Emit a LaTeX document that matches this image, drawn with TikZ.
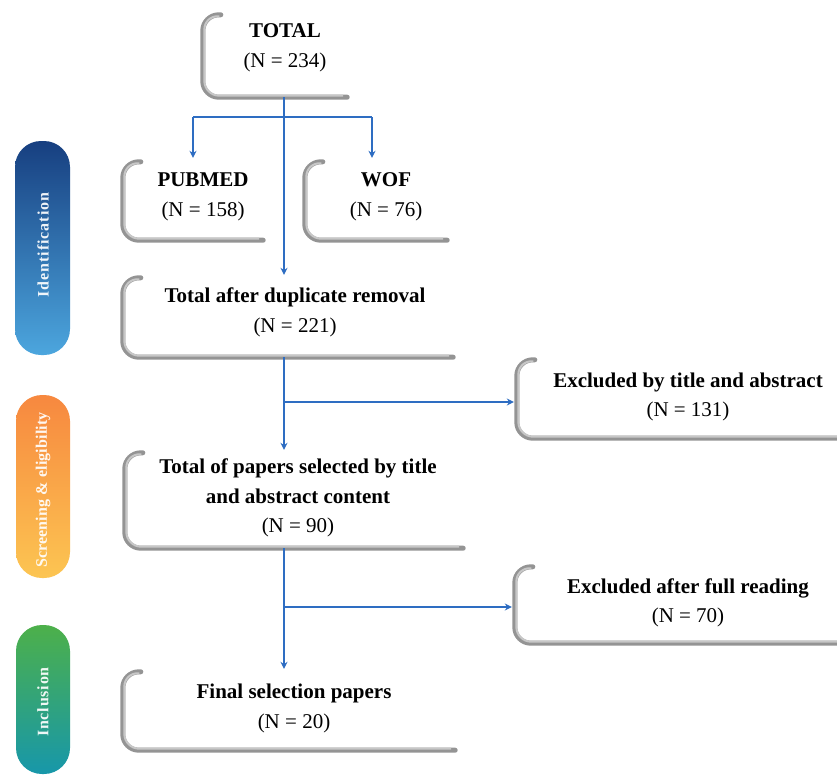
\documentclass[tikz,border=0pt]{standalone}
\usepackage{fontspec}
\setmainfont{Liberation Serif}
\usetikzlibrary{arrows.meta}
\definecolor{flowblue}{HTML}{2E6DC2}
\definecolor{idtop}{HTML}{173F80}
\definecolor{idbot}{HTML}{4CA6DE}
\definecolor{sctop}{HTML}{F7883F}
\definecolor{scbot}{HTML}{FCC552}
\definecolor{intop}{HTML}{4DB04A}
\definecolor{inbot}{HTML}{1797AA}
\newcommand{\cardshade}[1]{%
  \draw[shadowouter] ([xshift=18pt]#1.north west) -- (#1.north west) -- (#1.south west) -- ([xshift=-20pt]#1.south east);
  \draw[shadowinner] ([xshift=16pt,yshift=-1.5pt]#1.north west) -- ([xshift=1.5pt]#1.north west) -- ([xshift=1.5pt,yshift=1.5pt]#1.south west) -- ([xshift=-24pt,yshift=1.5pt]#1.south east);}
\begin{document}
\begin{tikzpicture}[x=1pt,y=-1pt,
  cardbox/.style={draw=none, inner sep=0pt, rectangle},
  txt/.style={align=center, inner sep=0pt, font=\fontsize{21}{29.5}\selectfont},
  shadowouter/.style={line width=5pt, draw=black!42, rounded corners=16pt, line cap=round},
  shadowinner/.style={line width=2pt, draw=black!22, rounded corners=15pt, line cap=butt},
  flow/.style={draw=flowblue, line width=1.6pt},
  arr/.style={flow, -{Stealth[length=7pt,width=7pt]}},
  pilltxt/.style={rotate=90, text=white, opacity=0.92, font=\fontsize{16}{18}\selectfont\bfseries, inner sep=0pt}]
\useasboundingbox (0,0) rectangle (837,776);
\clip (0,0) rectangle (837,776);
\fill[white] (0,0) rectangle (837,776);

% phase pills
\shade[top color=idtop, bottom color=idbot, rounded corners=26pt] (15,141) rectangle (70,355);
\shade[top color=sctop, bottom color=scbot, rounded corners=26pt] (16,395) rectangle (70,578);
\shade[top color=intop, bottom color=inbot, rounded corners=26pt] (16,625) rectangle (70,774);
\node[pilltxt] (pid) at (43,245) {\addfontfeatures{LetterSpace=6}Identification};
\node[pilltxt] (psc) at (43,490) {\addfontfeatures{LetterSpace=1}Screening \& eligibility};
\node[pilltxt] (pin) at (43,702) {\addfontfeatures{LetterSpace=5}Inclusion};

% cards
\node[cardbox, minimum width=164pt, minimum height=82pt] (total) at (285,56) {};
\node[cardbox, minimum width=160pt, minimum height=78pt] (pubmed) at (203,201) {};
\node[cardbox, minimum width=162pt, minimum height=78pt] (wof) at (386,201) {};
\node[cardbox, minimum width=350pt, minimum height=79pt] (dup) at (298,317.5) {};
\node[cardbox, minimum width=346pt, minimum height=78pt] (excl1) at (690,399) {};
\node[cardbox, minimum width=358pt, minimum height=95pt] (sel) at (304,500.5) {};
\node[cardbox, minimum width=346pt, minimum height=76pt] (excl2) at (688,605) {};
\node[cardbox, minimum width=352pt, minimum height=78pt] (final) at (299,711) {};

\foreach \c in {total,pubmed,wof,dup,excl1,sel,excl2,final} {\cardshade{\c}}

\node[txt] (totalt) at (285,48) {\textbf{TOTAL}\\(N = 234)};
\node[txt] (pubmedt) at (203,197) {\textbf{PUBMED}\\(N = 158)};
\node[txt] (woft) at (386,197) {\textbf{WOF}\\(N = 76)};
\node[txt] (dupt) at (295,312.5) {\textbf{Total after duplicate removal}\\(N = 221)};
\node[txt] (excl1t) at (688,397) {\textbf{Excluded by title and abstract}\\(N = 131)};
\node[txt] (selt) at (298,498) {\textbf{Total of papers selected by title}\\\textbf{and abstract content}\\(N = 90)};
\node[txt] (excl2t) at (688,603) {\textbf{Excluded after full reading}\\(N = 70)};
\node[txt] (finalt) at (294,708.5) {\textbf{Final selection papers}\\(N = 20)};

% connectors
\coordinate (spine) at (284,0);
\coordinate (j0) at (284,117);
\coordinate (jl) at (193,117);
\coordinate (jr) at (372,117);
\coordinate (j1) at (284,402);
\coordinate (j2) at (284,607);

\draw[arr, shorten >=3pt] (total.south -| spine) -- (dup.north -| spine);
\draw[flow] (jl) -- (jr);
\draw[arr, shorten >=4pt] (jl) -- (jl |- pubmed.north);
\draw[arr, shorten >=4pt] (jr) -- (jr |- wof.north);

\draw[arr, shorten >=3pt] (dup.south -| spine) -- (sel.north -| spine);
\draw[arr, shorten >=3pt] (j1) -- (j1 -| excl1.west);

\draw[arr, shorten >=3pt] (sel.south -| spine) -- (final.north -| spine);
\draw[arr, shorten >=3pt] (j2) -- (j2 -| excl2.west);
\end{tikzpicture}
\end{document}
